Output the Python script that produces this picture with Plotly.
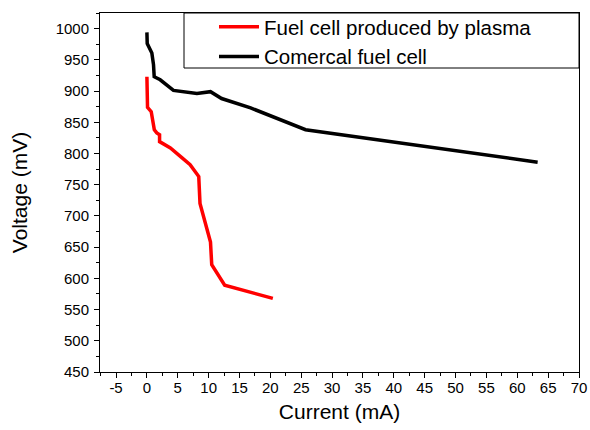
import plotly.graph_objects as go

# Data
plasma_current = [0.0, 0.1, 0.7, 1.2, 1.6, 2.05, 2.05, 3.8, 5.7, 7.0, 8.4, 8.6, 10.3, 10.5, 12.6, 20.4]
plasma_voltage = [923, 874, 867, 838, 833, 830, 819, 809, 793, 782, 763, 720, 658, 622, 589, 568]

comm_current = [0.0, 0.05, 0.8, 1.07, 1.18, 2.15, 4.3, 8.1, 10.3, 12.1, 16.8, 25.7, 63.3]
comm_voltage = [994, 976, 961, 942, 923, 918, 901, 896, 899, 888, 873, 838, 786]

x_ticks = list(range(-5, 75, 5))
y_ticks = list(range(450, 1050, 50))

FONT = "Liberation Sans, Arial, sans-serif"
W, H = 590, 430
L, R, T, B = 100, 11, 13, 58
PW, PH = W - L - R, H - T - B

fig = go.Figure()
fig.add_trace(go.Scatter(x=plasma_current, y=plasma_voltage, mode="lines",
                         name="Fuel cell produced by plasma",
                         line=dict(color="#ff0000", width=3.5)))
fig.add_trace(go.Scatter(x=comm_current, y=comm_voltage, mode="lines",
                         name="Comercal fuel cell",
                         line=dict(color="#000000", width=3.5)))

axis_common = dict(showline=True, linecolor="black", linewidth=1, mirror=True,
                   ticks="outside", ticklen=5, tickwidth=1, tickcolor="black",
                   showgrid=False, zeroline=False, automargin=False,
                   ticklabeloverflow="allow",
                   tickfont=dict(family=FONT, size=15, color="black"))

fig.update_xaxes(range=[-7.6, 70], tickvals=x_ticks, ticktext=[str(v) for v in x_ticks],
                 minor=dict(ticks="outside", ticklen=3, tickcolor="black", dtick=2.5, tick0=0),
                 ticklabelstandoff=-3,
                 title=dict(text="Current (mA)", font=dict(family=FONT, size=21, color="black"),
                            standoff=9),
                 **axis_common)
fig.update_yaxes(range=[450, 1025], tickvals=y_ticks, ticktext=[str(v) for v in y_ticks],
                 minor=dict(ticks="outside", ticklen=3, tickcolor="black", dtick=25, tick0=0),
                 ticklabelstandoff=2,
                 title=dict(text="Voltage (mV)", font=dict(family=FONT, size=21, color="black"),
                            standoff=22),
                 **axis_common)

# legend box
fig.add_shape(type="rect", xref="paper", yref="paper",
              x0=(184 - L) / PW, x1=1.0, y0=1 - (68 - T) / PH, y1=1.0,
              line=dict(color="black", width=1), fillcolor="rgba(0,0,0,0)")

fig.update_layout(
    width=W, height=H,
    margin=dict(l=L, r=R, t=T, b=B, autoexpand=False),
    paper_bgcolor="white", plot_bgcolor="white",
    font=dict(family=FONT, color="black"),
    legend=dict(x=(214 - L) / PW, y=1 + (T - 7) / PH, xanchor="left", yanchor="top",
                bgcolor="rgba(0,0,0,0)", borderwidth=0,
                font=dict(family=FONT, size=20.5, color="black"),
                itemwidth=40, tracegroupgap=0),
)

# remove the default 8px page margin so the figure fills the window exactly
fig.write_html("out.html", config={"displayModeBar": False},
               post_script="document.body.style.margin='0';document.body.style.overflow='hidden';")
